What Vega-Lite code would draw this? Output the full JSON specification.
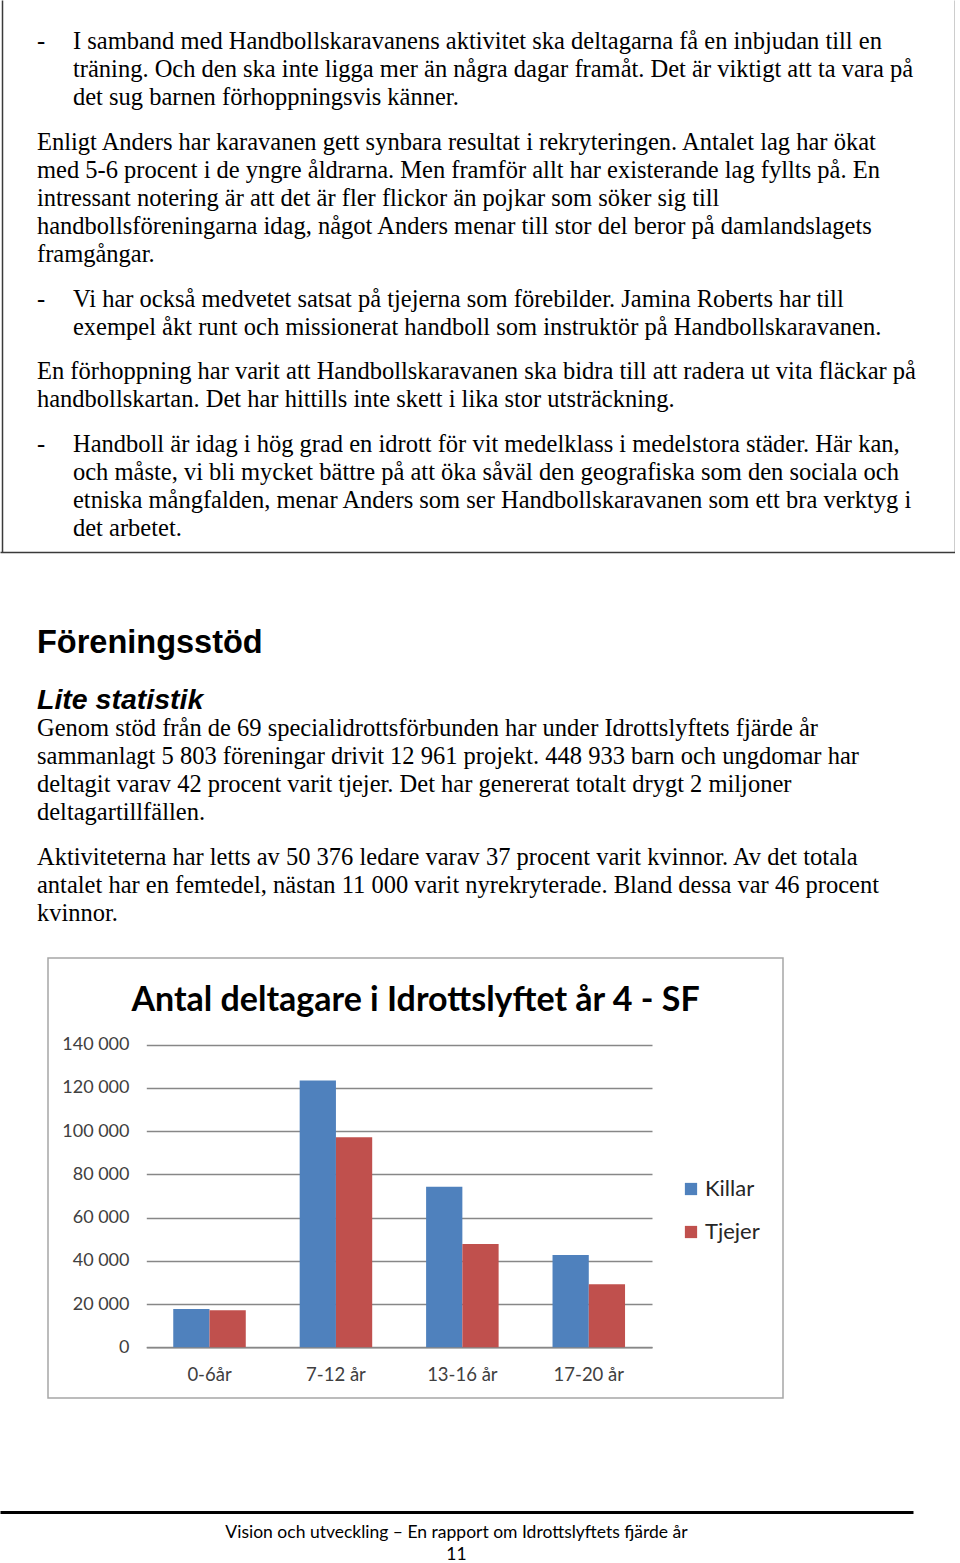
{
  "$schema": "https://vega.github.io/schema/vega-lite/v6.json",
  "padding": 0,
  "background": "white",
  "spacing": 0,
  "config": {"view": {"stroke": null}},
  "vconcat": [
    {
      "width": 955,
      "height": 552,
      "layer": [
        {
          "data": {"values": [
            {"row": 0, "ind": 1, "t": "I samband med Handbollskaravanens aktivitet ska deltagarna få en inbjudan till en"},
            {"row": 1, "ind": 1, "t": "träning. Och den ska inte ligga mer än några dagar framåt. Det är viktigt att ta vara på"},
            {"row": 2, "ind": 1, "t": "det sug barnen förhoppningsvis känner."},
            {"row": 3.6, "ind": 0, "t": "Enligt Anders har karavanen gett synbara resultat i rekryteringen. Antalet lag har ökat"},
            {"row": 4.6, "ind": 0, "t": "med 5-6 procent i de yngre åldrarna. Men framför allt har existerande lag fyllts på. En"},
            {"row": 5.6, "ind": 0, "t": "intressant notering är att det är fler flickor än pojkar som söker sig till"},
            {"row": 6.6, "ind": 0, "t": "handbollsföreningarna idag, något Anders menar till stor del beror på damlandslagets"},
            {"row": 7.6, "ind": 0, "t": "framgångar."},
            {"row": 9.2, "ind": 1, "t": "Vi har också medvetet satsat på tjejerna som förebilder. Jamina Roberts har till"},
            {"row": 10.2, "ind": 1, "t": "exempel åkt runt och missionerat handboll som instruktör på Handbollskaravanen."},
            {"row": 11.8, "ind": 0, "t": "En förhoppning har varit att Handbollskaravanen ska bidra till att radera ut vita fläckar på"},
            {"row": 12.8, "ind": 0, "t": "handbollskartan. Det har hittills inte skett i lika stor utsträckning."},
            {"row": 14.4, "ind": 1, "t": "Handboll är idag i hög grad en idrott för vit medelklass i medelstora städer. Här kan,"},
            {"row": 15.4, "ind": 1, "t": "och måste, vi bli mycket bättre på att öka såväl den geografiska som den sociala och"},
            {"row": 16.4, "ind": 1, "t": "etniska mångfalden, menar Anders som ser Handbollskaravanen som ett bra verktyg i"},
            {"row": 17.4, "ind": 1, "t": "det arbetet."}
          ]},
          "mark": {"type": "text", "align": "left", "baseline": "middle", "font": "Liberation Serif", "fontSize": 24.5, "color": "#000"},
          "encoding": {
            "x": {"field": "ind", "type": "quantitative", "scale": {"domain": [-1.027778, 25.5], "nice": false, "zero": false},
                  "axis": {"orient": "bottom", "domain": true, "domainColor": "#3a3a3a", "domainWidth": 1.5, "labels": false, "ticks": false, "grid": false, "title": null}},
            "y": {"field": "row", "type": "quantitative", "scale": {"domain": [-1.5, 18.214286], "reverse": true, "nice": false, "zero": false},
                  "axis": {"orient": "left", "offset": -2, "domain": true, "domainColor": "#3a3a3a", "domainWidth": 1.5, "labels": false, "ticks": false, "grid": false, "title": null}},
            "text": {"field": "t"}
          }
        },
        {
          "data": {"values": [
            {"row": 0, "ind": 0, "t": "-"},
            {"row": 9.2, "ind": 0, "t": "-"},
            {"row": 14.4, "ind": 0, "t": "-"}
          ]},
          "mark": {"type": "text", "align": "left", "baseline": "middle", "font": "Liberation Serif", "fontSize": 24.5, "color": "#000"},
          "encoding": {
            "x": {"field": "ind", "type": "quantitative", "scale": {"domain": [-1.027778, 25.5], "nice": false, "zero": false},
                  "axis": {"orient": "bottom", "domain": true, "domainColor": "#3a3a3a", "domainWidth": 1.5, "labels": false, "ticks": false, "grid": false, "title": null}},
            "y": {"field": "row", "type": "quantitative", "scale": {"domain": [-1.5, 18.214286], "reverse": true, "nice": false, "zero": false},
                  "axis": {"orient": "right", "domain": true, "domainColor": "#3a3a3a", "domainWidth": 1.5, "labels": false, "ticks": false, "grid": false, "title": null}},
            "text": {"field": "t"}
          }
        }
      ],
      "resolve": {"scale": {"y": "independent"}, "axis": {"y": "independent"}}
    },
    {
      "width": 955,
      "height": 405,
      "encoding": {
        "x": {"field": "ind", "type": "quantitative", "scale": {"domain": [0, 1], "range": [37, 73], "nice": false, "zero": false}, "axis": null},
        "y": {"field": "row", "type": "quantitative", "scale": {"domain": [0, 10], "range": [177, 457], "nice": false, "zero": false}, "axis": null},
        "text": {"field": "t"}
      },
      "layer": [
        {
          "data": {"values": [{"row": -3.07, "ind": 0, "t": "Föreningsstöd"}]},
          "mark": {"type": "text", "align": "left", "baseline": "middle", "font": "Liberation Sans", "fontSize": 32.5, "fontWeight": "bold", "color": "#000"}
        },
        {
          "data": {"values": [{"row": -1.05, "ind": 0, "t": "Lite statistik"}]},
          "mark": {"type": "text", "align": "left", "baseline": "middle", "font": "Liberation Sans", "fontSize": 28.5, "fontWeight": "bold", "fontStyle": "italic", "color": "#000"}
        },
        {
          "data": {"values": [
            {"row": 0, "ind": 0, "t": "Genom stöd från de 69 specialidrottsförbunden har under Idrottslyftets fjärde år"},
            {"row": 1, "ind": 0, "t": "sammanlagt 5 803 föreningar drivit 12 961 projekt. 448 933 barn och ungdomar har"},
            {"row": 2, "ind": 0, "t": "deltagit varav 42 procent varit tjejer. Det har genererat totalt drygt 2 miljoner"},
            {"row": 3, "ind": 0, "t": "deltagartillfällen."},
            {"row": 4.6, "ind": 0, "t": "Aktiviteterna har letts av 50 376 ledare varav 37 procent varit kvinnor. Av det totala"},
            {"row": 5.6, "ind": 0, "t": "antalet har en femtedel, nästan 11 000 varit nyrekryterade. Bland dessa var 46 procent"},
            {"row": 6.6, "ind": 0, "t": "kvinnor."}
          ]},
          "mark": {"type": "text", "align": "left", "baseline": "middle", "font": "Liberation Serif", "fontSize": 24.5, "color": "#000"}
        }
      ]
    },
    {
      "spacing": 0,
      "hconcat": [
        {
          "width": 47,
          "height": 440,
          "data": {"values": []},
          "mark": "rect",
          "encoding": {}
        },
        {
          "width": 735,
          "height": 440,
          "view": {"stroke": "#a6a6a6", "strokeWidth": 1.5},
          "title": {"text": "Antal deltagare i Idrottslyftet år 4 - SF", "anchor": "middle", "font": "Lato", "fontSize": 34, "fontWeight": "bold", "color": "#000", "baseline": "middle", "offset": -77},
          "data": {"values": [
            {"age": "0-6år", "kon": "Killar", "antal": 17700},
            {"age": "0-6år", "kon": "Tjejer", "antal": 17100},
            {"age": "7-12 år", "kon": "Killar", "antal": 123300},
            {"age": "7-12 år", "kon": "Tjejer", "antal": 97100},
            {"age": "13-16 år", "kon": "Killar", "antal": 74200},
            {"age": "13-16 år", "kon": "Tjejer", "antal": 47800},
            {"age": "17-20 år", "kon": "Killar", "antal": 42700},
            {"age": "17-20 år", "kon": "Tjejer", "antal": 29100}
          ]},
          "mark": {"type": "bar"},
          "encoding": {
            "x": {"field": "age", "type": "nominal", "sort": null,
                  "scale": {"range": [98.3, 604], "paddingInner": 0.4264, "paddingOuter": 0.2132},
                  "axis": {"orient": "bottom", "offset": -50.7, "domain": true, "domainColor": "#878787", "domainWidth": 1.5, "ticks": false, "tickSize": 0, "labelPadding": 18, "labelFont": "Lato", "labelFontSize": 18.5, "labelColor": "#404040", "labelAngle": 0, "title": null, "grid": false}},
            "xOffset": {"field": "kon", "type": "nominal", "sort": ["Killar", "Tjejer"], "scale": {"paddingInner": 0, "paddingOuter": 0}},
            "y": {"field": "antal", "type": "quantitative",
                  "scale": {"domain": [0, 140000], "range": [389.3, 86.5], "nice": false, "zero": true},
                  "axis": {"orient": "left", "offset": -81, "values": [0, 20000, 40000, 60000, 80000, 100000, 120000, 140000], "labelExpr": "replace(format(datum.value, ','), ',', ' ')", "labelFont": "Lato", "labelFontSize": 18, "labelColor": "#404040", "labelPadding": 0, "ticks": false, "tickSize": 0, "domain": false, "grid": true, "gridColor": "#878787", "gridWidth": 1.5, "title": null}},
            "color": {"field": "kon", "type": "nominal", "sort": ["Killar", "Tjejer"],
                      "scale": {"range": ["#4f81bd", "#c0504d"]},
                      "legend": {"orient": "none", "legendX": 680, "legendY": 1178, "title": null, "symbolType": "square", "symbolSize": 150, "symbolStrokeWidth": 0, "labelFont": "Lato", "labelFontSize": 22, "labelColor": "#262626", "rowPadding": 21, "labelOffset": 3}}
          }
        }
      ]
    },
    {
      "width": 913,
      "height": 113,
      "data": {"values": []},
      "mark": "point",
      "encoding": {
        "x": {"field": "v", "type": "quantitative", "scale": {"domain": [0, 1]},
              "axis": {"orient": "bottom", "domain": true, "domainColor": "#000", "domainWidth": 3, "labels": false, "ticks": false, "grid": false, "title": null}}
      },
      "title": {"text": ["Vision och utveckling – En rapport om Idrottslyftets fjärde år", "11"], "orient": "bottom", "anchor": "middle", "font": "Lato", "fontSize": 17.5, "fontWeight": "normal", "color": "#000", "lineHeight": 22, "baseline": "top", "offset": 12}
    }
  ]
}
